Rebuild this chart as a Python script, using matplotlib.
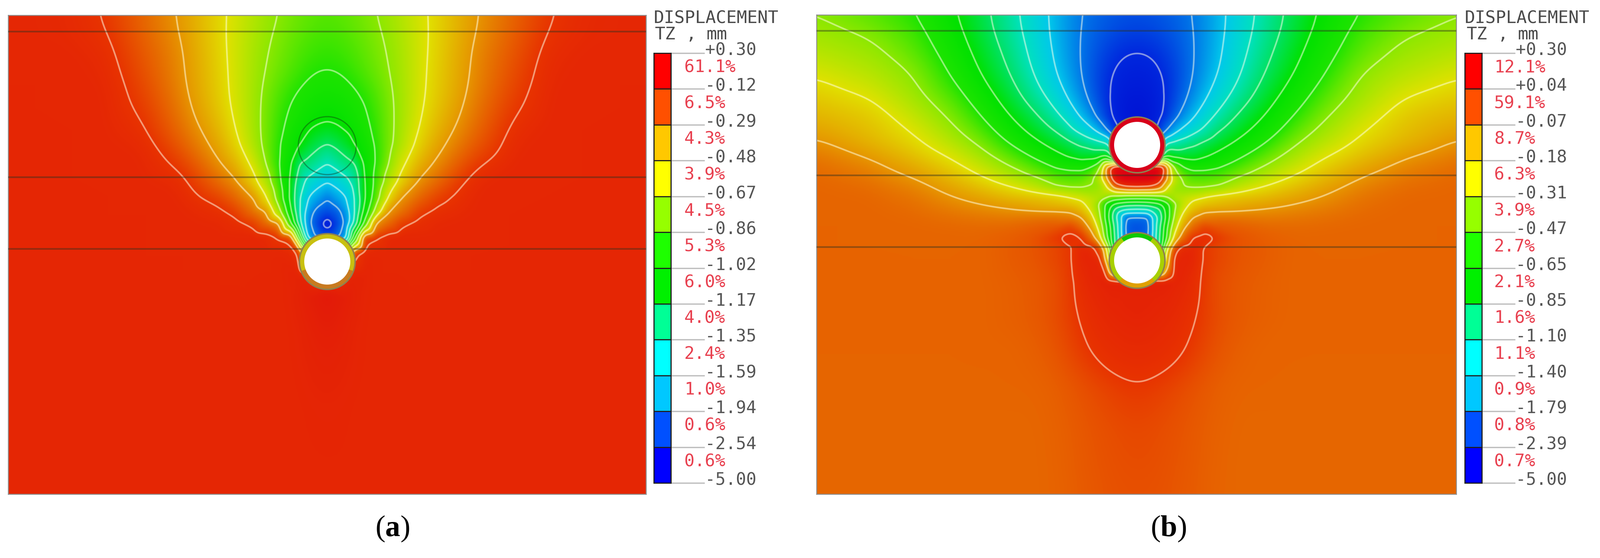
import numpy as np
import matplotlib
matplotlib.use('Agg')
import matplotlib.pyplot as plt
import matplotlib.tri as mtri
from matplotlib.colors import LinearSegmentedColormap
from matplotlib.patches import Circle, Wedge

W, H = 4307, 1502

# legend text
ticks_a = ['+0.30', '-0.12', '-0.29', '-0.48', '-0.67', '-0.86', '-1.02', '-1.17', '-1.35', '-1.59', '-1.94', '-2.54', '-5.00']
pct_a = ['61.1%', '6.5%', '4.3%', '3.9%', '4.5%', '5.3%', '6.0%', '4.0%', '2.4%', '1.0%', '0.6%', '0.6%']
ticks_b = ['+0.30', '+0.04', '-0.07', '-0.18', '-0.31', '-0.47', '-0.65', '-0.85', '-1.10', '-1.40', '-1.79', '-2.39', '-5.00']
pct_b = ['12.1%', '59.1%', '8.7%', '6.3%', '3.9%', '2.7%', '2.1%', '1.6%', '1.1%', '0.9%', '0.8%', '0.7%']
band_colors = ['#ff0000', '#ff5000', '#ffc800', '#ffff00', '#96ff00', '#1eff00',
               '#00f000', '#00ff96', '#00ffff', '#00c8ff', '#0050ff', '#0000ff']

# colours seen in the plots, per legend band position (0 = bottom of legend, 12 = top)
shade_pos = [0, 1, 2, 3, 4, 5, 6, 7, 8, 9, 10, 11, 12]
shade_rgb = [(0, 0, 205), (0, 40, 222), (0, 120, 232), (0, 200, 235), (0, 225, 190), (0, 225, 100),
             (0, 225, 0), (30, 228, 0), (140, 232, 0), (225, 225, 0), (230, 150, 0), (232, 52, 0), (222, 0, 18)]

# displacement, in legend band position
# columns = horizontal distance from the tunnel axis, rows = depth, left half only (px of the picture)
cols_a = [0, 25, 50, 75, 100, 130, 165, 200, 250, 300, 400, 500, 600, 700, 860]
rows_a = [41, 83, 140, 200, 260, 326, 386, 440, 490, 535, 570, 600, 640, 680, 740, 800, 900, 1100, 1330]
field_a = [
    [7.5, 7.52, 7.6, 7.7, 7.82, 7.98, 8.2, 8.47, 8.85, 9.22, 9.97, 10.5, 10.98, 11.2, 11.25],
    [7.35, 7.38, 7.47, 7.6, 7.72, 7.88, 8.12, 8.4, 8.81, 9.22, 10.02, 10.55, 11.05, 11.2, 11.25],
    [7.18, 7.2, 7.3, 7.42, 7.6, 7.8, 8.02, 8.33, 8.82, 9.27, 10.13, 10.65, 11.15, 11.25, 11.25],
    [6.92, 6.95, 7.02, 7.25, 7.45, 7.68, 7.95, 8.3, 8.85, 9.32, 10.15, 10.75, 11.2, 11.25, 11.25],
    [6.5, 6.55, 6.68, 6.85, 7.0, 7.38, 7.85, 8.25, 8.88, 9.35, 10.25, 10.88, 11.25, 11.25, 11.25],
    [6.0, 6.1, 6.3, 6.55, 6.85, 7.2, 7.78, 8.3, 9.0, 9.55, 10.4, 11.05, 11.25, 11.25, 11.25],
    [5.0, 5.25, 5.6, 6.08, 6.5, 7.08, 7.78, 8.4, 9.22, 9.85, 10.6, 11.2, 11.25, 11.25, 11.25],
    [4.0, 4.35, 4.72, 5.0, 6.15, 7.05, 8.0, 8.85, 9.68, 10.15, 10.95, 11.25, 11.25, 11.25, 11.25],
    [3.0, 3.3, 3.7, 4.4, 5.95, 7.25, 8.45, 9.3, 10.15, 10.5, 11.25, 11.25, 11.25, 11.25, 11.25],
    [2.0, 2.45, 2.9, 4.05, 5.9, 7.6, 9.12, 10.05, 10.55, 10.93, 11.25, 11.25, 11.25, 11.25, 11.25],
    [1.4, 1.65, 2.4, 4.05, 6.4, 8.3, 10.0, 10.4, 10.9, 11.15, 11.25, 11.25, 11.25, 11.25, 11.25],
    [0.6, 1.3, 2.15, 4.4, 7.2, 10.0, 10.45, 10.85, 11.15, 11.25, 11.25, 11.25, 11.25, 11.25, 11.25],
    [1.6, 1.8, 2.6, 7.0, 10.8, 10.97, 11.2, 11.25, 11.25, 11.25, 11.25, 11.25, 11.25, 11.25, 11.25],
    [3.0, 5.0, 8.0, 10.9, 11.2, 11.25, 11.25, 11.25, 11.25, 11.25, 11.25, 11.25, 11.25, 11.25, 11.25],
    [11.0, 11.1, 11.2, 11.3, 11.3, 11.25, 11.25, 11.25, 11.25, 11.25, 11.25, 11.25, 11.25, 11.25, 11.25],
    [11.5, 11.45, 11.4, 11.33, 11.28, 11.25, 11.25, 11.25, 11.25, 11.25, 11.25, 11.25, 11.25, 11.25, 11.25],
    [11.4, 11.38, 11.33, 11.28, 11.25, 11.25, 11.25, 11.25, 11.25, 11.25, 11.25, 11.25, 11.25, 11.25, 11.25],
    [11.28, 11.28, 11.27, 11.25, 11.25, 11.25, 11.25, 11.25, 11.25, 11.25, 11.25, 11.25, 11.25, 11.25, 11.25],
    [11.25, 11.25, 11.25, 11.25, 11.25, 11.25, 11.25, 11.25, 11.25, 11.25, 11.25, 11.25, 11.25, 11.25, 11.25],
]

cols_b = [0, 30, 60, 80, 100, 125, 150, 180, 220, 280, 340, 420, 500, 600, 720, 870]
rows_b = [40, 83, 140, 198, 260, 310, 350, 385, 420, 450, 480, 505, 520, 535, 550, 565, 585, 610, 640, 670,
          700, 760, 860, 940, 1000, 1040, 1150, 1330]
field_b = [
    [1.5, 1.52, 1.6, 1.66, 1.72, 1.84, 1.97, 2.3, 2.76, 3.5, 4.3, 5.3, 6.15, 7.02, 7.5, 7.95],
    [1.3, 1.32, 1.42, 1.5, 1.62, 1.77, 1.92, 2.25, 2.77, 3.57, 4.4, 5.43, 6.35, 7.3, 7.9, 8.25],
    [0.95, 0.98, 1.1, 1.25, 1.42, 1.68, 1.92, 2.3, 2.87, 3.73, 4.68, 5.7, 6.6, 7.55, 8.2, 8.5],
    [0.75, 0.78, 0.88, 1.02, 1.25, 1.6, 1.95, 2.4, 3.0, 3.98, 4.97, 5.98, 6.93, 8.0, 8.5, 8.95],
    [0.6, 0.62, 0.75, 0.95, 1.25, 1.75, 2.2, 2.77, 3.5, 4.5, 5.46, 6.5, 7.45, 8.25, 8.98, 9.35],
    [0.5, 0.55, 0.7, 1.0, 1.55, 2.2, 2.78, 3.4, 4.2, 5.3, 5.95, 7.0, 7.87, 8.6, 9.35, 9.6],
    [0.5, 0.5, 1.0, 1.9, 2.55, 3.2, 3.6, 4.05, 5.02, 5.67, 6.4, 7.42, 8.2, 8.96, 9.45, 9.85],
    [1.0, 1.0, 2.0, 4.0, 4.2, 4.4, 4.75, 5.15, 5.6, 6.23, 6.9, 7.9, 8.48, 9.12, 9.55, 10.1],
    [3.0, 3.0, 4.0, 6.0, 5.75, 5.6, 5.55, 5.85, 6.25, 6.9, 7.55, 8.3, 8.97, 9.45, 10.0, 10.35],
    [12.0, 12.0, 12.0, 10.5, 7.9, 7.0, 6.75, 6.8, 6.95, 7.5, 8.07, 8.65, 9.25, 9.75, 10.2, 10.45],
    [12.0, 12.0, 11.7, 10.2, 8.6, 7.85, 7.5, 7.45, 7.55, 8.15, 8.5, 9.12, 9.55, 10.03, 10.35, 10.5],
    [11.1, 11.0, 10.4, 8.9, 8.2, 8.05, 8.0, 8.0, 8.1, 8.6, 9.05, 9.45, 9.85, 10.25, 10.45, 10.5],
    [8.7, 8.7, 8.7, 8.5, 8.35, 8.3, 8.4, 8.6, 8.85, 9.15, 9.42, 9.72, 10.0, 10.35, 10.5, 10.5],
    [7.0, 7.05, 7.3, 7.9, 8.4, 8.65, 8.9, 9.1, 9.35, 9.6, 9.75, 9.9, 10.05, 10.35, 10.5, 10.5],
    [5.3, 5.4, 5.8, 6.5, 7.8, 8.7, 9.2, 9.4, 9.55, 9.7, 9.85, 10.05, 10.2, 10.4, 10.5, 10.5],
    [3.8, 3.9, 4.7, 6.45, 8.0, 8.9, 9.5, 9.85, 9.9, 9.93, 9.96, 10.1, 10.25, 10.42, 10.5, 10.5],
    [1.85, 1.9, 4.3, 6.35, 8.15, 9.35, 10.0, 10.25, 10.35, 10.4, 10.4, 10.4, 10.45, 10.5, 10.5, 10.5],
    [1.5, 1.7, 4.8, 6.8, 8.6, 9.85, 10.45, 10.8, 10.65, 10.6, 10.55, 10.5, 10.5, 10.5, 10.5, 10.5],
    [1.5, 1.8, 5.0, 7.0, 9.3, 10.5, 11.02, 11.15, 10.97, 10.7, 10.6, 10.5, 10.5, 10.5, 10.5, 10.5],
    [3.0, 3.0, 5.0, 9.0, 10.8, 11.2, 11.25, 10.97, 10.8, 10.65, 10.6, 10.5, 10.5, 10.5, 10.5, 10.5],
    [5.0, 5.0, 7.0, 9.5, 11.2, 11.3, 11.25, 10.97, 10.8, 10.65, 10.6, 10.5, 10.5, 10.5, 10.5, 10.5],
    [11.35, 11.35, 11.35, 11.35, 11.3, 11.25, 11.15, 10.93, 10.72, 10.6, 10.55, 10.5, 10.5, 10.5, 10.5, 10.5],
    [11.3, 11.28, 11.25, 11.22, 11.18, 11.12, 11.05, 10.9, 10.72, 10.6, 10.55, 10.5, 10.5, 10.5, 10.5, 10.5],
    [11.2, 11.18, 11.15, 11.12, 11.1, 11.05, 10.95, 10.8, 10.65, 10.55, 10.5, 10.5, 10.5, 10.5, 10.5, 10.5],
    [11.1, 11.08, 11.05, 11.02, 10.97, 10.88, 10.8, 10.7, 10.6, 10.52, 10.5, 10.5, 10.5, 10.5, 10.5, 10.5],
    [10.98, 10.95, 10.9, 10.85, 10.8, 10.75, 10.7, 10.63, 10.55, 10.5, 10.5, 10.5, 10.5, 10.5, 10.5, 10.5],
    [10.8, 10.78, 10.75, 10.72, 10.7, 10.67, 10.62, 10.58, 10.52, 10.48, 10.48, 10.48, 10.48, 10.48, 10.48, 10.48],
    [10.72, 10.7, 10.7, 10.68, 10.65, 10.62, 10.6, 10.55, 10.5, 10.48, 10.48, 10.48, 10.48, 10.48, 10.48, 10.48],
]

layers_a = [85, 477, 670]
layers_b = [83, 472, 665]

cmap = LinearSegmentedColormap.from_list(
    'tz', [(p / 12, tuple(c / 255 for c in rgb)) for p, rgb in zip(shade_pos, shade_rgb)], N=1024)


def axes_px(fig, x0, y0, x1, y1):
    return fig.add_axes([x0 / W, 1 - y1 / H, (x1 - x0) / W, (y1 - y0) / H])


def blur(z, sigma):
    # separable gaussian, sigma in grid cells
    n = int(3 * sigma)
    k = np.exp(-0.5 * (np.arange(-n, n + 1) / sigma) ** 2)
    k /= k.sum()
    p = np.pad(z, n, mode='edge')
    p = np.apply_along_axis(lambda r: np.convolve(r, k, mode='same'), 0, p)
    p = np.apply_along_axis(lambda r: np.convolve(r, k, mode='same'), 1, p)
    return p[n:-n, n:-n]


def smooth_field(cols, rows, field, xlim, ylim, near_y):
    # mirror the left half
    half = np.array(field, dtype=float)
    vals = np.hstack([half[:, :0:-1], half])
    xs = np.concatenate([-np.array(cols[:0:-1]), np.array(cols)])
    gx, gy = np.meshgrid(xs, rows)
    tri = mtri.Triangulation(gx.ravel(), gy.ravel())
    interp = mtri.LinearTriInterpolator(tri, vals.ravel())
    px = np.linspace(xlim[0], xlim[1], 860)
    py = np.linspace(ylim[0], ylim[1], 650)
    mx, my = np.meshgrid(px, py)
    z = np.ma.filled(interp(mx, my), 11.0)
    # sharp around the tunnel, wide away from it
    cell = px[1] - px[0]
    near, far = blur(z, 7 / cell), blur(z, 30 / cell)
    w = np.clip((np.hypot(mx, my - near_y) - 200) / 150, 0, 1)
    return px, py, (1 - w) * near + w * far


def draw_field(ax, cols, rows, field, xlim, ylim, layers, near_y):
    px, py, z = smooth_field(cols, rows, field, xlim, ylim, near_y)
    ax.imshow(z, cmap=cmap, vmin=0, vmax=12, extent=[px[0], px[-1], py[-1], py[0]],
              aspect='auto', interpolation='bilinear', zorder=1)
    levels = list(range(1, 12))
    line_cols = []
    for lv in levels:
        c = np.array(cmap(lv / 12)[:3])
        line_cols.append(tuple(0.5 * c + 0.5 * np.array([1, 1, 0.92])))
    ax.contour(px, py, z, levels=levels, colors=line_cols, linewidths=3.2, zorder=2)
    for y in layers:
        ax.axhline(y, color='#303020', alpha=0.45, lw=3.2, zorder=3)
    ax.set_xlim(xlim)
    ax.set_ylim(ylim[1], ylim[0])
    ax.set_xticks([])
    ax.set_yticks([])
    for s in ax.spines.values():
        s.set_color('#8c8c8c')
        s.set_linewidth(1.8)


def ring(ax, y, parts, base):
    ax.add_patch(Circle((0, y), 77, fc='#8f8050', ec='none', zorder=4))
    ax.add_patch(Circle((0, y), 73, fc=base, ec='none', zorder=4))
    for t0, t1, col in parts:
        ax.add_patch(Wedge((0, y), 73, t0, t1, fc=col, ec='none', zorder=4))
    ax.add_patch(Circle((0, y), 62, fc='white', ec='none', zorder=5))


def draw_legend(ax, x_bar, x_tick_end, x_pct, x_tick, x_t, ticks, pct):
    top, step = 143, (1300 - 143) / 12
    mono = 'DejaVu Sans Mono'
    for i, col in enumerate(band_colors):
        ax.barh(top + (i + 0.5) * step, 46, height=step, left=x_bar, color=col, ec='#202020', lw=2.2, zorder=2)
        ax.text(x_pct, top + (i + 0.5) * step - 9, pct[i], color='#e8404f', family=mono, fontsize=33,
                va='center', ha='left', zorder=3)
    for i, lab in enumerate(ticks):
        y = top + i * step
        ax.plot([x_bar + 46, x_tick_end], [y, y], color='#bdbdbd', lw=2.5, zorder=1)
        ax.text(x_tick, y - 7, lab, color='#555555', family=mono, fontsize=33, va='center', ha='left', zorder=3)
    ax.text(x_bar, 50, 'DISPLACEMENT', color='#4a4a4a', family=mono, fontsize=33.5, va='center', ha='left')
    ax.text(x_t, 94, 'TZ', color='#4a4a4a', family=mono, fontsize=33.5, va='center', ha='left')
    ax.text(x_t + 84, 94, ',', color='#4a4a4a', family=mono, fontsize=33.5, va='center', ha='left')
    ax.text(x_t + 138, 94, 'mm', color='#4a4a4a', family=mono, fontsize=33.5, va='center', ha='left')


plt.rcParams['mathtext.fontset'] = 'custom'
plt.rcParams['mathtext.bf'] = 'Liberation Serif:bold'
plt.rcParams['mathtext.rm'] = 'Liberation Serif'

fig = plt.figure(figsize=(W / 100, H / 100), dpi=100, facecolor='white')

ax_a = axes_px(fig, 22, 41, 1739, 1330)
draw_field(ax_a, cols_a, rows_a, field_a, (-859, 858), (41, 1330), layers_a, 600)
ax_a.add_patch(Circle((0, 392), 78, fc='none', ec='#103010', alpha=0.4, lw=2.4, zorder=3))
ring(ax_a, 704, [(20, 160, '#c87a20')], '#c8c010')

ax_b = axes_px(fig, 2198, 40, 3920, 1330)
draw_field(ax_b, cols_b, rows_b, field_b, (-863, 859), (40, 1330), layers_b, 590)
ring(ax_b, 390, [], '#d8001a')
ring(ax_b, 701, [(235, 305, '#10c800'), (50, 130, '#e0a000')], '#a8d000')

# legends and captions, in picture pixels
ax_top = fig.add_axes([0, 0, 1, 1], facecolor='none')
ax_top.set_xlim(0, W)
ax_top.set_ylim(H, 0)
ax_top.axis('off')
draw_legend(ax_top, 1760, 1895, 1842, 1898, 1763, ticks_a, pct_a)
draw_legend(ax_top, 3943, 4077, 4022, 4080, 3948, ticks_b, pct_b)
ax_top.text(1056, 1424, r'($\mathbf{a}$)', fontsize=58, ha='center', va='center', color='black',
            family='Liberation Serif')
ax_top.text(3145, 1424, r'($\mathbf{b}$)', fontsize=58, ha='center', va='center', color='black',
            family='Liberation Serif')

fig.savefig('out.png', dpi=100)
